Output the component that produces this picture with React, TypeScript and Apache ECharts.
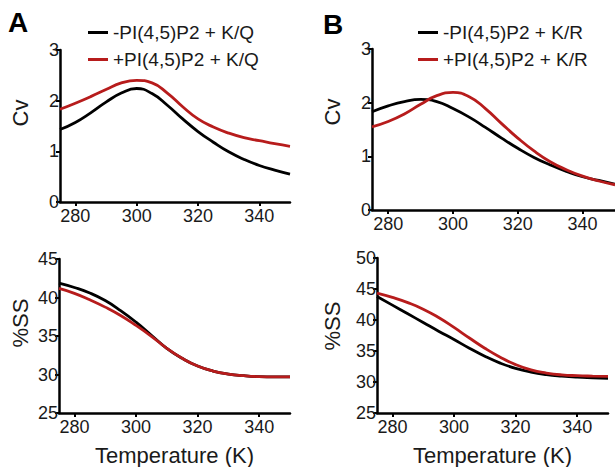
import React, { useEffect, useRef } from "react";
import * as echarts from "echarts";

const temps = [275, 280, 285, 290, 295, 300, 305, 310, 315, 320, 325, 330, 335, 340, 345, 350];

const cvA_minus = [1.43, 1.57, 1.76, 1.97, 2.15, 2.24, 2.14, 1.91, 1.64, 1.39, 1.18, 0.99, 0.84, 0.72, 0.63, 0.55];
const cvA_plus = [1.83, 1.95, 2.08, 2.22, 2.35, 2.4, 2.35, 2.15, 1.88, 1.64, 1.48, 1.36, 1.27, 1.21, 1.15, 1.1];
const cvB_minus = [1.83, 1.94, 2.02, 2.06, 2.02, 1.89, 1.73, 1.54, 1.34, 1.15, 0.98, 0.84, 0.72, 0.62, 0.55, 0.48];
const cvB_plus = [1.55, 1.65, 1.79, 1.97, 2.13, 2.19, 2.11, 1.89, 1.61, 1.34, 1.1, 0.9, 0.75, 0.63, 0.54, 0.47];

const ssA_minus = [41.87, 41.3, 40.58, 39.6, 38.3, 36.8, 35.1, 33.4, 32.1, 31.1, 30.45, 30.06, 29.85, 29.72, 29.68, 29.68];
const ssA_plus = [41.18, 40.54, 39.7, 38.75, 37.66, 36.37, 34.96, 33.4, 32.1, 31.1, 30.45, 30.06, 29.85, 29.72, 29.68, 29.68];
const ssB_minus = [43.8, 42.4, 41.0, 39.6, 38.2, 36.85, 35.45, 34.15, 33.05, 32.2, 31.6, 31.2, 30.95, 30.78, 30.68, 30.6];
const ssB_plus = [44.35, 43.65, 42.8, 41.75, 40.4, 38.8, 37.1, 35.45, 34.0, 32.8, 31.95, 31.45, 31.15, 31.02, 30.95, 30.9];

const xTicks = [280, 300, 320, 340];
const namesA = ["-PI(4,5)P2 + K/Q", "+PI(4,5)P2 + K/Q"];
const namesB = ["-PI(4,5)P2 + K/R", "+PI(4,5)P2 + K/R"];
const panelLetters = ["A", "B"];
const cvLabel = "Cv";
const ssLabel = "%SS";
const xLabel = "Temperature (K)";

const FONT = "'Liberation Sans', Arial, Helvetica, sans-serif";
const BLACK = "#000000";
const RED = "#b71c1c";
const TXT = "#1a1a1a";

function pairs(ys: number[]) {
  return temps.map((t, i) => [t, ys[i]]);
}

export default function App() {
  const ref = useRef<HTMLDivElement>(null);
  useEffect(() => {
    if (!ref.current) return;
    const chart = echarts.init(ref.current, null, { renderer: "svg" });
    const axisLine = { show: true, lineStyle: { color: BLACK, width: 2.5 } };
    const axisTick = { show: true, length: 4, lineStyle: { color: BLACK, width: 2 } };
    const mkX = (gi: number, name?: string) => ({
      type: "value",
      gridIndex: gi,
      min: 275,
      max: 350,
      axisLine,
      axisTick: { ...axisTick, customValues: xTicks },
      axisLabel: { customValues: xTicks, margin: 5, fontSize: 18, color: TXT, fontFamily: FONT },
      splitLine: { show: false },
      name: name,
      nameLocation: "middle",
      nameGap: 31,
      nameTextStyle: { fontSize: 22, color: TXT, fontFamily: FONT },
    });
    const mkY = (gi: number, min: number, max: number, interval: number) => ({
      type: "value",
      gridIndex: gi,
      min,
      max,
      interval,
      axisLine,
      axisTick,
      axisLabel: { margin: 1, fontSize: 18, color: TXT, fontFamily: FONT },
      splitLine: { show: false },
    });
    const line = (name: string, color: string, xi: number, ys: number[]) => ({
      type: "line",
      name,
      xAxisIndex: xi,
      yAxisIndex: xi,
      data: pairs(ys),
      smooth: 0.5,
      symbol: "none",
      lineStyle: { color, width: 2.8 },
      itemStyle: { color },
      z: color === RED ? 3 : 2,
    });
    const legendCommon = {
      orient: "vertical",
      top: 23,
      itemWidth: 20,
      itemHeight: 3,
      itemGap: 8,
      icon: "rect",
      padding: 0,
      textStyle: { fontSize: 19, color: TXT, fontFamily: FONT },
    };
    const rotText = (x: number, y: number, text: string) => ({
      type: "text",
      x,
      y,
      rotation: Math.PI / 2,
      style: {
        text,
        font: `22px ${FONT}`,
        fill: TXT,
        textAlign: "center",
        textVerticalAlign: "middle",
      },
    });
    chart.setOption({
      animation: false,
      backgroundColor: "#ffffff",
      grid: [
        { left: 60, top: 50, width: 230, height: 152 },
        { left: 372, top: 49, width: 244, height: 161 },
        { left: 59, top: 259, width: 231, height: 154 },
        { left: 377, top: 258, width: 231, height: 155 },
      ],
      xAxis: [mkX(0), mkX(1), mkX(2, xLabel), mkX(3, xLabel)],
      yAxis: [mkY(0, 0, 3, 1), mkY(1, 0, 3, 1), mkY(2, 25, 45, 5), mkY(3, 25, 50, 5)],
      legend: [
        { ...legendCommon, left: 88, data: namesA },
        { ...legendCommon, left: 418, data: namesB },
      ],
      graphic: [
        { type: "text", x: 8, y: 8, style: { text: panelLetters[0], font: `bold 28px ${FONT}`, fill: BLACK } },
        { type: "text", x: 323, y: 10, style: { text: panelLetters[1], font: `bold 28px ${FONT}`, fill: BLACK } },
        rotText(20, 113, cvLabel),
        rotText(20, 323, ssLabel),
        rotText(332, 112, cvLabel),
        rotText(332, 326, ssLabel),
      ],
      series: [
        line(namesA[0], BLACK, 0, cvA_minus),
        line(namesA[1], RED, 0, cvA_plus),
        line(namesB[0], BLACK, 1, cvB_minus),
        line(namesB[1], RED, 1, cvB_plus),
        line(namesA[0], BLACK, 2, ssA_minus),
        line(namesA[1], RED, 2, ssA_plus),
        line(namesB[0], BLACK, 3, ssB_minus),
        line(namesB[1], RED, 3, ssB_plus),
      ],
    });
    return () => chart.dispose();
  }, []);
  return (
    <div
      ref={ref}
      style={{ position: "absolute", left: 0, top: 0, width: 615, height: 467, background: "#fff" }}
    />
  );
}
